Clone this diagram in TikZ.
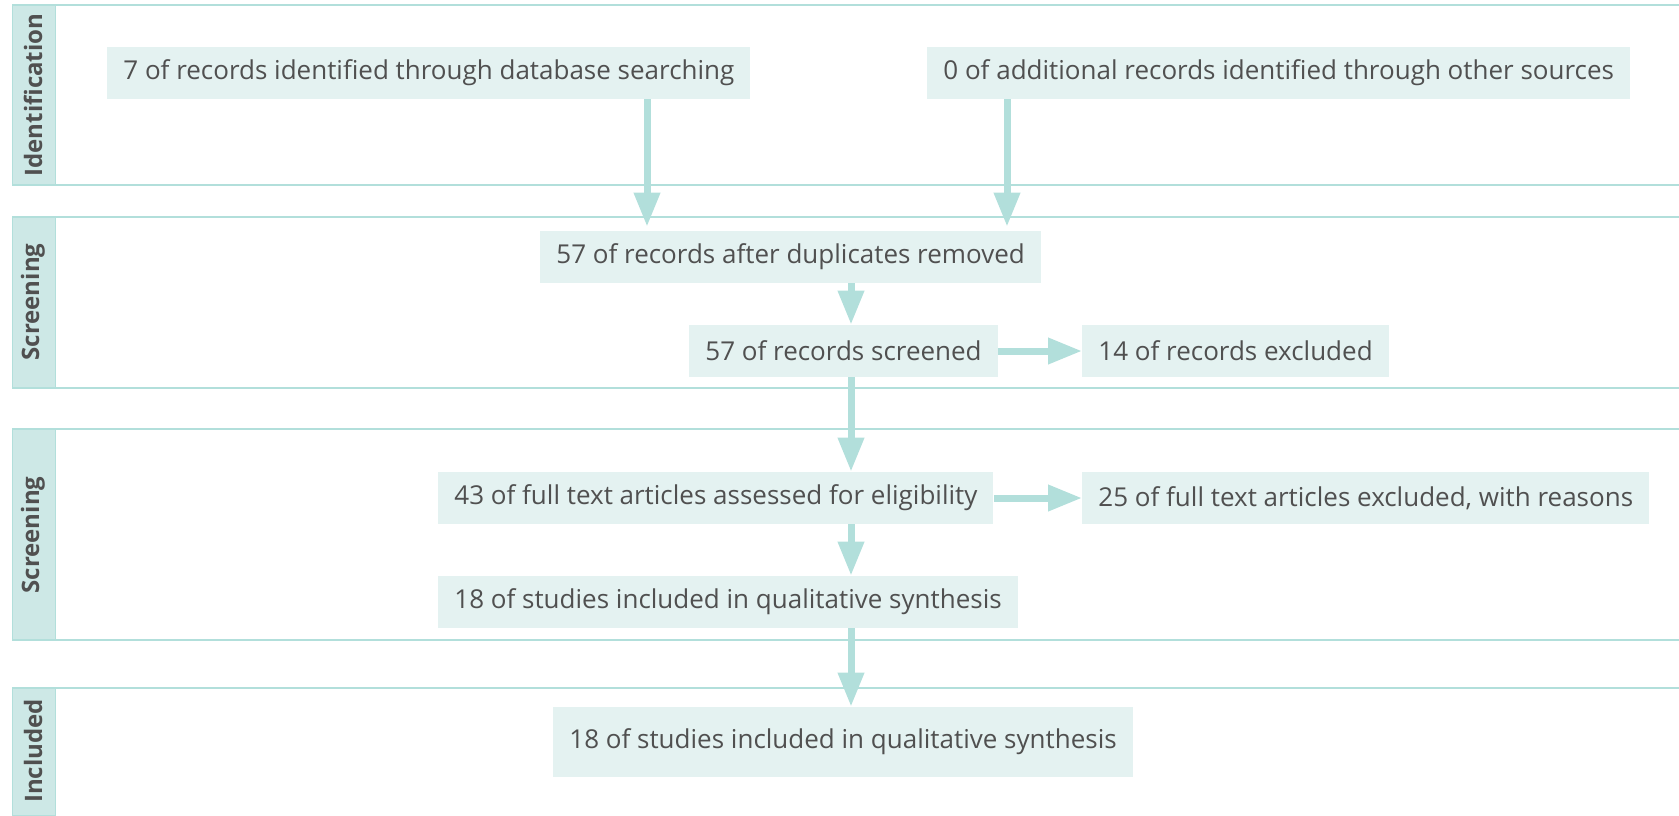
\documentclass[tikz,border=0pt]{standalone}
\usepackage{fontspec}
\setmainfont{Open Sans}
\usepackage{tikz}
\usetikzlibrary{arrows.meta, positioning}
\definecolor{tealline}{RGB}{178,223,219}
\definecolor{boxfill}{RGB}{228,242,241}
\definecolor{stripfill}{RGB}{205,232,230}
\definecolor{textgray}{RGB}{80,80,80}

\begin{document}
\begin{tikzpicture}[x=0.5pt, y=-0.5pt,
			box/.style={rectangle, fill=boxfill, text=textgray, anchor=west,
				inner xsep=8pt, inner ysep=0pt,
				minimum height=26pt, font=\fontsize{13}{15}\selectfont},
			phase/.style={rotate=90, text=textgray,
				font=\bfseries\fontsize{12}{14}\selectfont},
			band/.style={draw=tealline, line width=1pt},
			strip/.style={fill=stripfill, draw=tealline, line width=0.5pt},
			arr/.style={-{Triangle[length=17pt, width=12.5pt]}, color=tealline, line width=3.5pt}
			]
			\useasboundingbox (0,0) rectangle (1679,815);
			
			\filldraw[strip] (12,5)   rectangle (55,185);
			\filldraw[strip] (12,217) rectangle (55,388);
			\filldraw[strip] (12,429) rectangle (55,640);
			\filldraw[strip] (12,688) rectangle (55,815);
			\draw[band] (12,5)   -- (1679,5);
			\draw[band] (12,185) -- (1679,185);
			\draw[band] (12,217) -- (1679,217);
			\draw[band] (12,388) -- (1679,388);
			\draw[band] (12,429) -- (1679,429);
			\draw[band] (12,640) -- (1679,640);
			\draw[band] (12,688) -- (1679,688);
			
			\node[phase] (ident)   at (33,95)  {Identification};
			\node[phase] (screen1) at (33,302) {Screening};
			\node[phase] (screen2) at (33,535) {Screening};
			\node[phase] (incl)    at (33,751) {Included};
			
			\node[box] (dbrec)    at (107,73)  {7 of records identified through database searching};
			\node[box] (otherrec) at (927,73)  {0 of additional records identified through other sources};
			\node[box] (dedup)    at (540,257) {57 of records after duplicates removed};
			\node[box] (screened) at (689,351) {57 of records screened};
			\node[box] (excl)     at (1082,351) {14 of records excluded};
			\node[box] (fulltext) at (438,498) {43 of full text articles assessed for eligibility};
			\node[box] (ftexcl)   at (1082,498) {25 of full text articles excluded, with reasons};
			\node[box] (qual)     at (438,602) {18 of studies included in qualitative synthesis};
			\node[box, minimum height=35pt] (final) at (553,742) {18 of studies included in qualitative synthesis};
			
			\coordinate (colA) at (647,0);
			\coordinate (colB) at (1007,0);
			\coordinate (colM) at (851,0);
			
			\draw[arr, shorten >=2pt] (dbrec.south -| colA)    -- (dedup.north -| colA);
			\draw[arr, shorten >=2pt] (otherrec.south -| colB) -- (dedup.north -| colB);
			\draw[arr] (dedup.south -| colM)    -- (screened.north -| colM);
			\draw[arr] (screened.east)          -- (excl.west);
			\draw[arr] (screened.south -| colM) -- (fulltext.north -| colM);
			\draw[arr] (fulltext.east)          -- (ftexcl.west);
			\draw[arr] (fulltext.south -| colM) -- (qual.north -| colM);
			\draw[arr] (qual.south -| colM)     -- (final.north -| colM);
		\end{tikzpicture}
\end{document}
